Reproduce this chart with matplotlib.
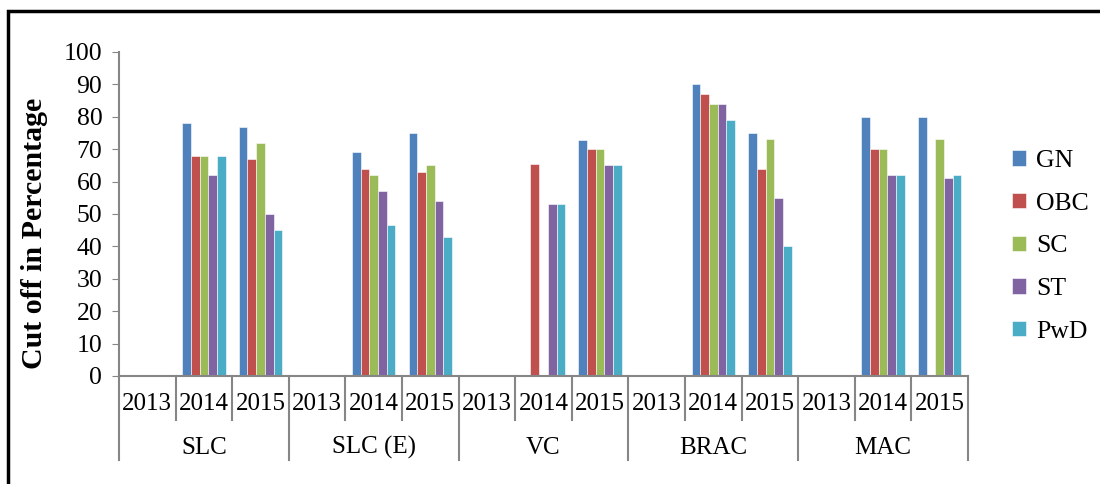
import numpy as np
import matplotlib.pyplot as plt
from matplotlib.patches import Rectangle

# Cut-off marks by course, year and category
courses = ["SLC", "SLC (E)", "VC", "BRAC", "MAC"]
years = ["2013", "2014", "2015"]
series = ["GN", "OBC", "SC", "ST", "PwD"]
colors = ["#4F81BD", "#C0504D", "#9BBB59", "#8064A2", "#4BACC6"]

# one value per course-year (15 slots), 0 = no bar
GN  = [0, 78, 77,  0, 69, 75,  0,  0,  72.7,  0, 90, 75,  0, 80, 80]
OBC = [0, 68, 67,  0, 64, 63,  0, 65.5, 70,   0, 87, 64,  0, 70, 0]
SC  = [0, 68, 72,  0, 62, 65,  0,  0,  70,    0, 84, 73,  0, 70, 73]
ST  = [0, 62, 50,  0, 57, 54,  0, 53,  65,    0, 84, 55,  0, 62, 61]
PwD = [0, 68, 45,  0, 46.5, 43, 0, 53, 65,    0, 79, 40,  0, 62, 62]
values = [GN, OBC, SC, ST, PwD]

plt.rcParams["font.family"] = ["Liberation Serif", "DejaVu Serif"]

fig = plt.figure(figsize=(11, 4.84), dpi=100)
ax = fig.add_axes([119 / 1100, 1 - 376 / 484, 849 / 1100, 324 / 484])

n = len(courses) * len(years)
x = np.arange(n) + 0.5
w = 0.154
for j, (name, vals) in enumerate(zip(series, values)):
    ax.bar(x + (j - 2) * w, vals, w, color=colors[j], edgecolor="white",
           linewidth=0.4, label=name)

ax.set_xlim(0, n)
ax.set_ylim(0, 100)
ax.set_yticks(range(0, 101, 10))
ax.tick_params(axis="y", labelsize=18.5, length=5, color="#868686", pad=7)
ax.set_xticks([])
for s in ["top", "right"]:
    ax.spines[s].set_visible(False)
for s in ["left", "bottom"]:
    ax.spines[s].set_color("#868686")
    ax.spines[s].set_linewidth(1.5)

ax.set_ylabel("Cut off in Percentage", fontsize=21.5, fontweight="bold")
ax.yaxis.set_label_coords(-0.084, 0.44)

# two-level category axis
tr = ax.get_xaxis_transform()
for k in range(n + 1):
    bottom = -0.26 if k % 3 == 0 else -0.136
    ax.plot([k, k], [0, bottom], transform=tr, color="#868686", lw=1.5, clip_on=False)
for i in range(n):
    ax.text(x[i], -0.085, years[i % 3], transform=tr, ha="center", va="center",
            fontsize=18)
for g, c in enumerate(courses):
    ax.text(g * 3 + 1.5, -0.222, c, transform=tr, ha="center", va="center", fontsize=18)

leg = ax.legend(loc="center left", bbox_to_anchor=(1.024, 0.40), frameon=False,
                fontsize=18.5, handlelength=0.55, handleheight=0.55,
                handletextpad=0.4, labelspacing=0.8)

# outer frame, cut off on the right and bottom as in the source
fig.patches.append(Rectangle((8 / 1100, -0.1), 1.2, 1 - 11 / 484 + 0.1,
                             transform=fig.transFigure, fill=False,
                             edgecolor="black", linewidth=2.5))

fig.savefig("out.png", dpi=100)
